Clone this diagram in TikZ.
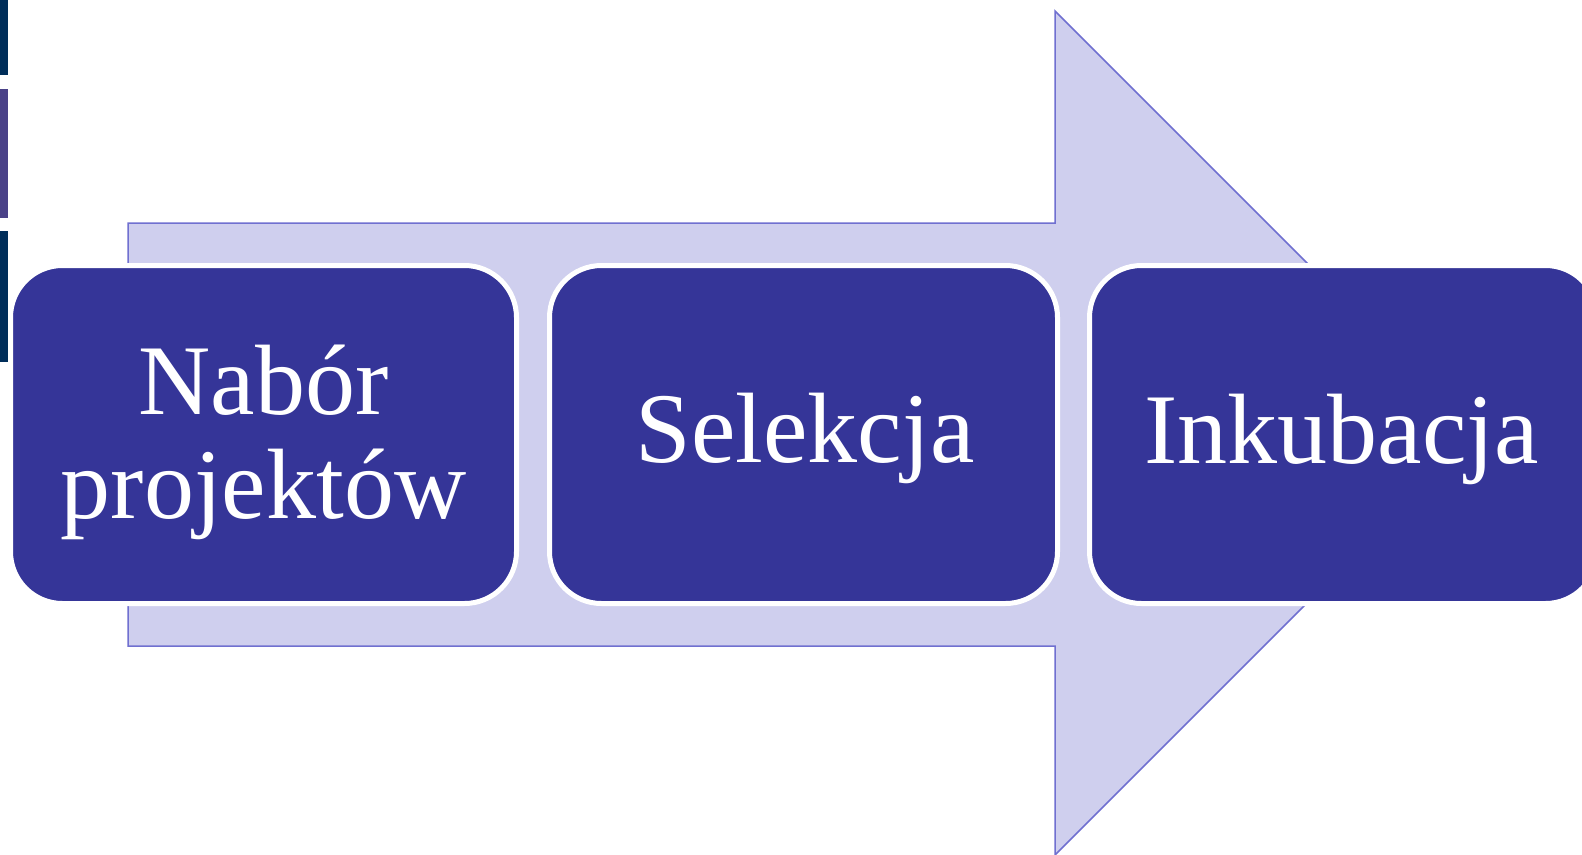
\documentclass[tikz,border=0pt]{standalone}
\usepackage{fontspec}
\setmainfont{Liberation Serif}
\definecolor{boxblue}{RGB}{53,53,152}
\definecolor{arrowfill}{RGB}{207,207,238}
\definecolor{arrowline}{RGB}{112,112,208}
\definecolor{barnavy}{RGB}{0,46,90}
\definecolor{barpurple}{RGB}{74,66,136}
\tikzset{
  stagebox/.style={draw=white, line width=5pt, fill=boxblue, rounded corners=52pt,
    minimum width=506pt, minimum height=338pt, inner sep=0pt},
  stagetext/.style={text=white, anchor=base, inner sep=0pt,
    font=\fontsize{100pt}{104pt}\selectfont},
  bigarrow/.style={fill=arrowfill, draw=arrowline, line width=1.5pt},
}
\begin{document}
\begin{tikzpicture}[x=1pt,y=-1pt]
\useasboundingbox (0,0) rectangle (1582,854);
\fill[white] (0,0) rectangle (1582,854);
% left bars
\fill[barnavy] (0,0) rectangle (8,75);
\fill[barpurple] (0,89) rectangle (8,218);
\fill[barnavy] (0,231) rectangle (8,362);
% big arrow
\draw[bigarrow] (128,223) -- (1055,223) -- (1055,11) -- (1477,433) -- (1055,855) -- (1055,646) -- (128,646) -- cycle;
% boxes
\node[stagebox] (b1) at (263.5,434.5) {};
\node[stagebox, minimum width=508pt] (b2) at (803.5,434.5) {};
\node[stagebox, minimum width=508pt] (b3) at (1343.5,434.5) {};
% texts
\node[stagetext] (t1a) at (263.5,414) {Nabór};
\node[stagetext] (t1b) at (263.5,518) {projektów};
\node[stagetext] (t2) at (805,462) {Selekcja};
\node[stagetext] (t3) at (1341.5,463) {Inkubacja};
\end{tikzpicture}
\end{document}
